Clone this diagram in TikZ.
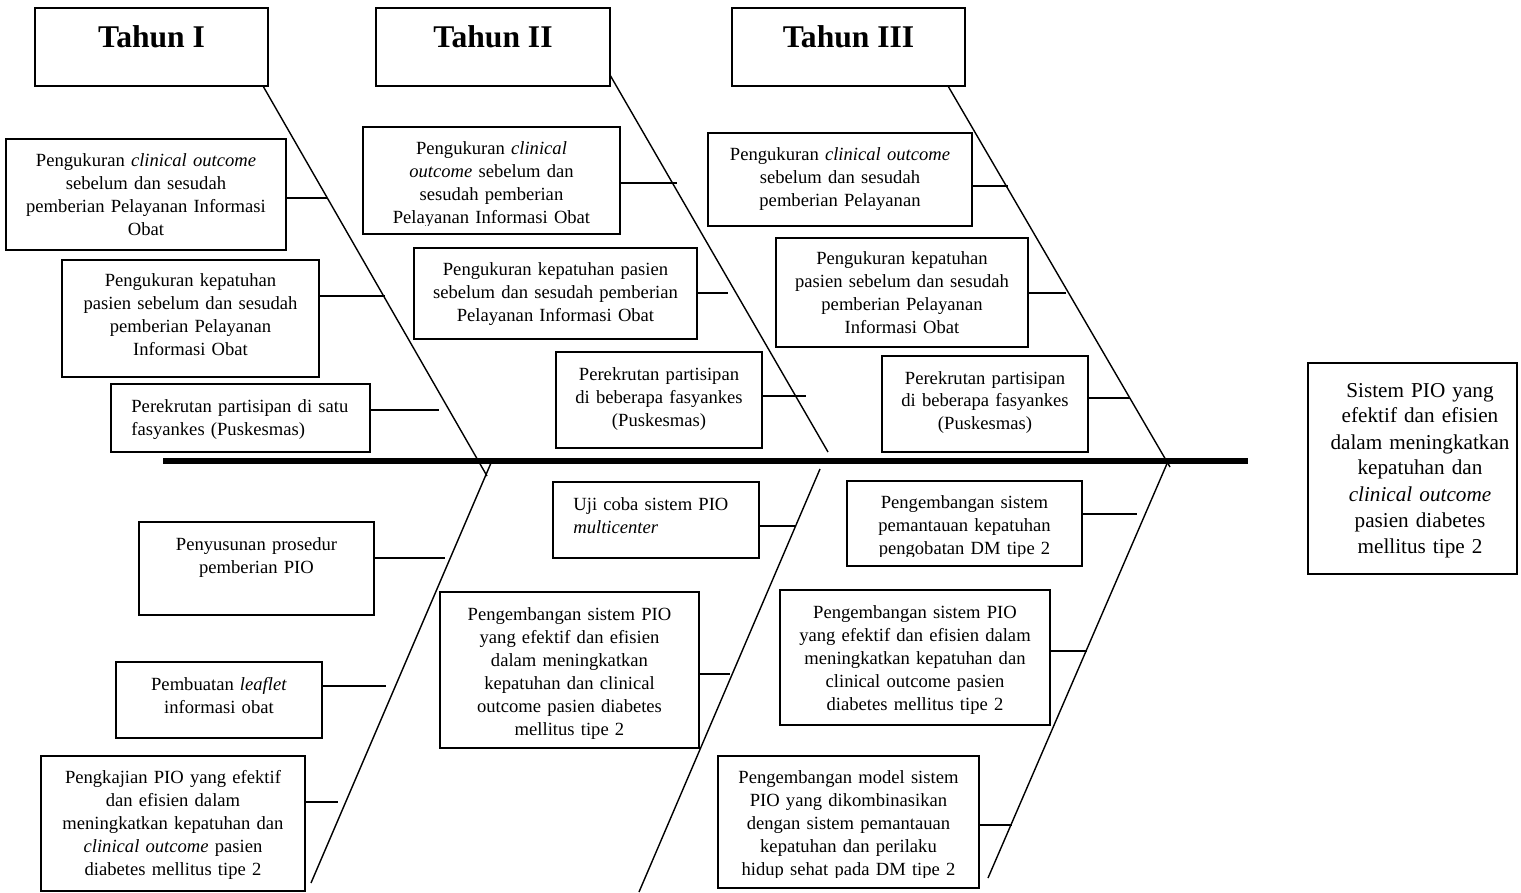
\documentclass[tikz,border=0pt]{standalone}
\usepackage{fontspec}
\setmainfont{Liberation Serif}
\usetikzlibrary{positioning,fit}
\begin{document}
\begin{tikzpicture}[x=0.5pt,y=-0.5pt,
  box/.style={draw, line width=0.7pt, inner sep=0pt},
  title/.style={font=\fontsize{15.8}{18}\selectfont\bfseries, inner sep=0pt, anchor=base},
  txt/.style={font=\fontsize{9.3}{11.5}\selectfont, align=center, text width=200pt, inner sep=0pt, anchor=base},
  ltxt/.style={font=\fontsize{9.3}{11.5}\selectfont, align=left, text width=150pt, inner sep=0pt, anchor=base west},
  rtxt/.style={font=\fontsize{10.6}{13}\selectfont, align=center, text width=120pt, inner sep=0pt, anchor=base},
  bone/.style={line width=0.7pt},
  spinestyle/.style={line width=2.8pt},
  conn/.style={line width=0.7pt}]
\useasboundingbox (0,0) rectangle (1521,893);

% title boxes
\node[box, fit={(35,8)(268,86)}] (th1) {};
\node[box, fit={(376,8)(610,86)}] (th2) {};
\node[box, fit={(732,8)(965,86)}] (th3) {};
\node[title] (tt1) at (151.5,48) {Tahun I};
\node[title] (tt2) at (493,48) {Tahun II};
\node[title] (tt3) at (848.5,48) {Tahun III};

% spine
\coordinate (sp1) at (163,461);
\coordinate (sp2) at (1248,461);
\draw[spinestyle] (sp1) -- (sp2);

% bones
\coordinate (u1a) at (263,86);  \coordinate (u1b) at (487,476);
\coordinate (u2a) at (610,75);  \coordinate (u2b) at (828,452);
\coordinate (u3a) at (948,86);  \coordinate (u3b) at (1170,467);
\coordinate (l1a) at (311,883); \coordinate (l1b) at (491,463);
\coordinate (l2a) at (639,892); \coordinate (l2b) at (820,469);
\coordinate (l3a) at (988,878); \coordinate (l3b) at (1169,459);
\draw[bone] (u1a) -- (u1b);
\draw[bone] (u2a) -- (u2b);
\draw[bone] (u3a) -- (u3b);
\draw[bone] (l1a) -- (l1b);
\draw[bone] (l2a) -- (l2b);
\draw[bone] (l3a) -- (l3b);

% ---------- Tahun I, top ----------
\node[box, fit={(6,139)(286,250)}] (b1) {};
\node[txt] (tb1) at (146,167) {Pengukuran \textit{clinical outcome}\\ sebelum dan sesudah\\ pemberian Pelayanan Informasi\\ Obat};
\node[box, fit={(62,260)(319,377)}] (b2) {};
\node[txt] (tb2) at (190.5,287) {Pengukuran kepatuhan\\ pasien sebelum dan sesudah\\ pemberian Pelayanan\\ Informasi Obat};
\node[box, fit={(111,384)(370,452)}] (b3) {};
\node[ltxt] (tb3) at (131,412) {Perekrutan partisipan di satu\\ fasyankes (Puskesmas)};

% ---------- Tahun II, top ----------
\node[box, fit={(363,127)(620,234)}] (c1) {};
\begin{scope}
\clip (363,127) rectangle (620,225.5);
\node[txt] (tc1) at (491.5,155) {Pengukuran \textit{clinical}\\ \textit{outcome} sebelum dan\\ sesudah pemberian\\ Pelayanan Informasi Obat};
\end{scope}
\node[box, fit={(414,248)(697,339)}] (c2) {};
\node[txt] (tc2) at (555.5,276) {Pengukuran kepatuhan pasien\\ sebelum dan sesudah pemberian\\ Pelayanan Informasi Obat};
\node[box, fit={(556,352)(762,448)}] (c3) {};
\node[txt] (tc3) at (659,380) {Perekrutan partisipan\\ di beberapa fasyankes\\ (Puskesmas)};

% ---------- Tahun III, top ----------
\node[box, fit={(708,133)(972,226)}] (d1) {};
\node[txt] (td1) at (840,161) {Pengukuran \textit{clinical outcome}\\ sebelum dan sesudah\\ pemberian Pelayanan};
\node[box, fit={(776,238)(1028,347)}] (d2) {};
\node[txt] (td2) at (902,265) {Pengukuran kepatuhan\\ pasien sebelum dan sesudah\\ pemberian Pelayanan\\ Informasi Obat};
\node[box, fit={(882,356)(1088,452)}] (d3) {};
\node[txt] (td3) at (985,384) {Perekrutan partisipan\\ di beberapa fasyankes\\ (Puskesmas)};

% ---------- Tahun I, bottom ----------
\node[box, fit={(139,522)(374,615)}] (e1) {};
\node[txt] (te1) at (256.5,550) {Penyusunan prosedur\\ pemberian PIO};
\node[box, fit={(116,662)(322,738)}] (e2) {};
\node[txt] (te2) at (219,690) {Pembuatan \textit{leaflet}\\ informasi obat};
\node[box, fit={(41,756)(305,891)}] (e3) {};
\node[txt] (te3) at (173,783) {Pengkajian PIO yang efektif\\ dan efisien dalam\\ meningkatkan kepatuhan dan\\ \textit{clinical outcome} pasien\\ diabetes mellitus tipe 2};

% ---------- Tahun II, bottom ----------
\node[box, fit={(553,482)(759,558)}] (f1) {};
\node[ltxt] (tf1) at (573,510) {Uji coba sistem PIO\\ \textit{multicenter}};
\node[box, fit={(440,592)(699,748)}] (f2) {};
\node[txt] (tf2) at (569.5,620) {Pengembangan sistem PIO\\ yang efektif dan efisien\\ dalam meningkatkan\\ kepatuhan dan clinical\\ outcome pasien diabetes\\ mellitus tipe 2};

% ---------- Tahun III, bottom ----------
\node[box, fit={(847,481)(1082,566)}] (g1) {};
\begin{scope}
\clip (847,481) rectangle (1082,556);
\node[txt] (tg1) at (964.5,508) {Pengembangan sistem\\ pemantauan kepatuhan\\ pengobatan DM tipe 2};
\end{scope}
\node[box, fit={(780,590)(1050,725)}] (g2) {};
\node[txt] (tg2) at (915,618) {Pengembangan sistem PIO\\ yang efektif dan efisien dalam\\ meningkatkan kepatuhan dan\\ clinical outcome pasien\\ diabetes mellitus tipe 2};
\node[box, fit={(718,756)(979,888)}] (g3) {};
\begin{scope}
\clip (718,756) rectangle (979,877.5);
\node[txt] (tg3) at (848.5,783) {Pengembangan model sistem\\ PIO yang dikombinasikan\\ dengan sistem pemantauan\\ kepatuhan dan perilaku\\ hidup sehat pada DM tipe 2};
\end{scope}

% ---------- result box ----------
\node[box, fit={(1308,363)(1517,574)}] (R) {};
\node[rtxt] (tR) at (1420,397) {Sistem PIO yang\\ efektif dan efisien\\ dalam meningkatkan\\ kepatuhan dan\\ \textit{clinical outcome}\\ pasien diabetes\\ mellitus tipe 2};

% ---------- connectors ----------
\coordinate (k1) at (327,198);
\coordinate (k2) at (385,296);
\coordinate (k3) at (439,410);
\coordinate (k4) at (677,183);
\coordinate (k5) at (728,293);
\coordinate (k6) at (806,396);
\coordinate (k7) at (1008,186);
\coordinate (k8) at (1066,293);
\coordinate (k9) at (1130,398);
\coordinate (k10) at (445,558);
\coordinate (k11) at (386,686);
\coordinate (k12) at (338,802);
\coordinate (k13) at (795,526);
\coordinate (k14) at (730,674);
\coordinate (k15) at (1137,514);
\coordinate (k16) at (1087,651);
\coordinate (k17) at (1012,825);
\draw[conn] (b1.east |- k1) -- (k1);
\draw[conn] (b2.east |- k2) -- (k2);
\draw[conn] (b3.east |- k3) -- (k3);
\draw[conn] (c1.east |- k4) -- (k4);
\draw[conn] (c2.east |- k5) -- (k5);
\draw[conn] (c3.east |- k6) -- (k6);
\draw[conn] (d1.east |- k7) -- (k7);
\draw[conn] (d2.east |- k8) -- (k8);
\draw[conn] (d3.east |- k9) -- (k9);
\draw[conn] (e1.east |- k10) -- (k10);
\draw[conn] (e2.east |- k11) -- (k11);
\draw[conn] (e3.east |- k12) -- (k12);
\draw[conn] (f1.east |- k13) -- (k13);
\draw[conn] (f2.east |- k14) -- (k14);
\draw[conn] (g1.east |- k15) -- (k15);
\draw[conn] (g2.east |- k16) -- (k16);
\draw[conn] (g3.east |- k17) -- (k17);
\end{tikzpicture}
\end{document}
